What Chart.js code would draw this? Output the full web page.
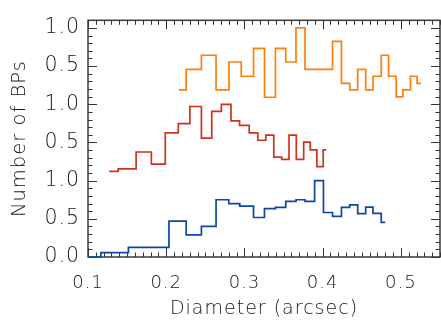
<!DOCTYPE html>
<html>
<head>
<meta charset="utf-8">
<script src="https://cdn.jsdelivr.net/npm/chart.js@4.4.1/dist/chart.umd.min.js"></script>
<style>
  html, body { margin: 0; padding: 0; background: #fff; }
  #wrap { width: 441px; height: 324px; }
</style>
</head>
<body>
<div id="wrap"><canvas id="c" width="441" height="324"></canvas></div>
<script>
// ---- data (bin edges in arcsec, normalised counts) ----
const bottomEdges = [0.100, 0.1165, 0.1517, 0.2035, 0.2255, 0.2450, 0.2637, 0.2800, 0.2940, 0.3116, 0.3256, 0.3396, 0.3528, 0.3660, 0.3774, 0.3897, 0.4010, 0.4126, 0.4240, 0.4346, 0.4448, 0.4550, 0.4643, 0.4749];
const bottomEnd = 0.480;
const bottomValues = [0.0, 0.058, 0.125, 0.47, 0.29, 0.40, 0.75, 0.70, 0.667, 0.517, 0.633, 0.65, 0.729, 0.75, 0.729, 1.0, 0.583, 0.533, 0.65, 0.683, 0.567, 0.654, 0.571, 0.454];

const middleEdges = [0.1271, 0.1386, 0.1615, 0.1810, 0.1988, 0.2154, 0.2302, 0.2450, 0.2582, 0.2705, 0.2828, 0.2938, 0.3061, 0.3171, 0.3273, 0.3375, 0.3477, 0.3570, 0.3663, 0.3757, 0.3841, 0.3926, 0.4007];
const middleEnd = 0.4045;
const middleValues = [0.121, 0.154, 0.375, 0.217, 0.625, 0.746, 0.971, 0.558, 0.908, 1.0, 0.783, 0.725, 0.625, 0.529, 0.596, 0.308, 0.279, 0.596, 0.279, 0.504, 0.404, 0.183, 0.404];

const topEdges = [0.2162, 0.2255, 0.2450, 0.2637, 0.2802, 0.2959, 0.3116, 0.3256, 0.3396, 0.3528, 0.3659, 0.3774, 0.4126, 0.4240, 0.4346, 0.4448, 0.4550, 0.4643, 0.4749, 0.4842, 0.4940, 0.5025, 0.5122, 0.5207];
const topEnd = 0.5258;
const topValues = [0.1875, 0.458, 0.642, 0.1875, 0.554, 0.367, 0.733, 0.092, 0.733, 0.554, 1.0, 0.458, 0.825, 0.275, 0.1875, 0.458, 0.1875, 0.367, 0.642, 0.367, 0.096, 0.1875, 0.367, 0.275];

const seriesOffsets = [0, 1, 2];
const seriesColors = ['#0b47a8', '#d2301c', '#ff7f0a'];

const xTickValues = [0.1, 0.2, 0.3, 0.4, 0.5];
const xTickLabels = ['0.1', '0.2', '0.3', '0.4', '0.5'];
const yTickValues = [0, 0.5, 1.0, 1.5, 2.0, 2.5, 3.0];
const yTickLabels = ['0.0', '0.5', '1.0', '0.5', '1.0', '0.5', '1.0'];

function buildPoints(edges, values, end, offset) {
  const pts = edges.map((e, i) => ({ x: e, y: values[i] + offset }));
  pts.push({ x: end, y: values[values.length - 1] + offset });
  return pts;
}

const seriesList = [
  [bottomEdges, bottomValues, bottomEnd],
  [middleEdges, middleValues, middleEnd],
  [topEdges, topValues, topEnd]
];

const datasets = seriesList.map((s, k) => ({
  data: buildPoints(s[0], s[1], s[2], seriesOffsets[k]),
  borderColor: seriesColors[k],
  borderWidth: 1.7,
  pointRadius: 0,
  fill: false,
  stepped: 'before',
  clip: 4,
  tension: 0
}));

const framePlugin = {
  id: 'frame',
  beforeDraw(chart) {
    chart.ctx.letterSpacing = '1px';
  },
  beforeDatasetsDraw(chart) {
    const { ctx, chartArea: a, scales: { x, y } } = chart;
    ctx.save();
    ctx.strokeStyle = '#333';
    ctx.lineWidth = 1;
    ctx.beginPath();
    for (let i = 10; i <= 55; i++) {
      const v = i / 100;
      const px = Math.round(x.getPixelForValue(v)) + 0.5;
      const len = (i % 10 === 0) ? 9 : 4.5;
      ctx.moveTo(px, a.bottom); ctx.lineTo(px, a.bottom - len);
      ctx.moveTo(px, a.top); ctx.lineTo(px, a.top + len);
    }
    for (let i = 0; i <= 31; i++) {
      const v = i / 10;
      const py = Math.round(y.getPixelForValue(v)) + 0.5;
      const len = (i % 5 === 0) ? 9 : 4.5;
      ctx.moveTo(a.left, py); ctx.lineTo(a.left + len, py);
      ctx.moveTo(a.right, py); ctx.lineTo(a.right - len, py);
    }
    ctx.stroke();
    ctx.lineWidth = 1.5;
    ctx.strokeStyle = '#3a3a3a';
    ctx.strokeRect(a.left, a.top, a.right - a.left, a.bottom - a.top);
    ctx.restore();
  }
};

const FONT = 'DejaVu Sans';
const TEXT = '#161616';

new Chart(document.getElementById('c'), {
  type: 'line',
  data: { datasets },
  options: {
    responsive: false,
    animation: false,
    devicePixelRatio: 1,
    layout: { padding: { left: 0, right: 1, top: 9, bottom: 0 } },
    plugins: { legend: { display: false }, tooltip: { enabled: false } },
    scales: {
      x: {
        type: 'linear',
        min: 0.1,
        max: 0.55,
        grid: { display: false, drawTicks: false },
        border: { display: false },
        afterBuildTicks(scale) { scale.ticks = xTickValues.map(v => ({ value: v })); },
        afterFit(scale) { scale.height = 67; },
        ticks: {
          callback: (v, i) => xTickLabels[i],
          font: { family: FONT, size: 18, weight: '200' },
          color: TEXT,
          padding: 16,
          maxRotation: 0,
          autoSkip: false
        },
        title: {
          display: true,
          text: 'Diameter (arcsec)',
          font: { family: FONT, size: 19, weight: '200' },
          color: TEXT,
          padding: { top: 0, bottom: 4 }
        }
      },
      y: {
        type: 'linear',
        min: 0,
        max: 3.1,
        grid: { display: false, drawTicks: false },
        border: { display: false },
        afterBuildTicks(scale) { scale.ticks = yTickValues.map(v => ({ value: v })); },
        afterFit(scale) { scale.width = 88; },
        ticks: {
          callback: (v, i) => yTickLabels[i],
          font: { family: FONT, size: 20.5, weight: '200' },
          color: TEXT,
          padding: 8,
          autoSkip: false
        },
        title: {
          display: true,
          text: 'Number of BPs',
          font: { family: FONT, size: 19.5, weight: '200' },
          color: TEXT,
          padding: { top: 8, bottom: 0 }
        }
      }
    }
  },
  plugins: [framePlugin]
});
</script>
</body>
</html>
